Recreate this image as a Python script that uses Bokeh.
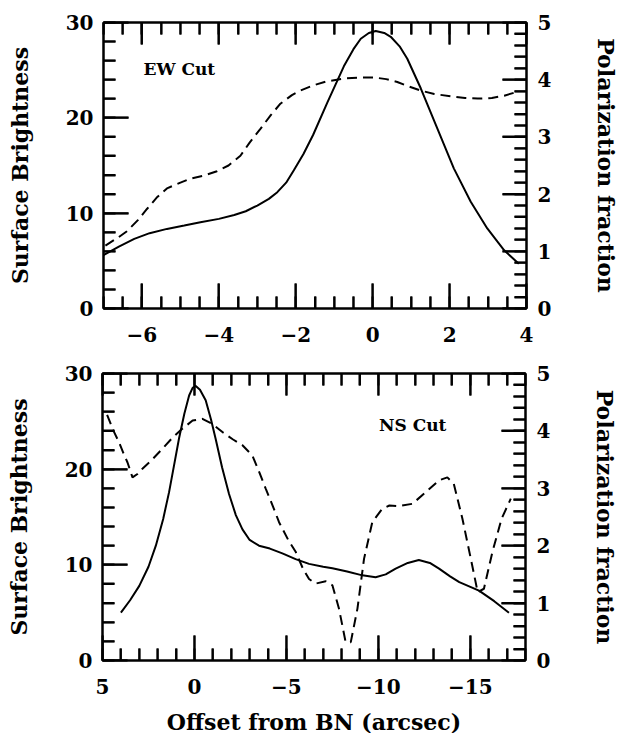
import numpy as np
from bokeh.plotting import figure
from bokeh.models import Range1d, LinearAxis, SingleIntervalTicker, CustomJSTickFormatter, Label
from bokeh.layouts import column, row
from bokeh.embed import file_html
from bokeh.resources import INLINE

# ---------------- data ----------------
# EW cut: surface brightness (left axis)
ew_sb_x = [-7.0, -6.6, -6.2, -5.8, -5.35, -4.9, -4.48, -4.0, -3.6, -3.3, -3.0, -2.7, -2.48, -2.25,
           -2.05, -1.8, -1.55, -1.18, -0.75, -0.5, -0.31, -0.1, 0.08, 0.3, 0.47, 0.7, 0.9, 1.25,
           1.68, 2.11, 2.55, 2.98, 3.42, 3.8]
ew_sb_y = [5.6, 6.5, 7.3, 7.9, 8.35, 8.7, 9.05, 9.4, 9.8, 10.2, 10.8, 11.5, 12.2, 13.2,
           14.5, 16.2, 18.2, 21.6, 25.4, 27.2, 28.3, 28.9, 29.1, 28.9, 28.5, 27.5, 26.2, 23.1,
           18.9, 14.7, 11.2, 8.4, 6.1, 4.7]
# EW cut: polarization fraction (right axis)
ew_pol_x = [-6.95, -6.6, -6.39, -6.1, -5.87, -5.6, -5.35, -5.0, -4.74, -4.4, -4.05, -3.75, -3.44,
            -3.2, -2.92, -2.65, -2.4, -2.1, -1.88, -1.55, -1.2, -0.75, -0.3, 0.03, 0.35, 0.64,
            0.95, 1.25, 1.6, 2.03, 2.4, 2.73, 3.1, 3.42, 3.81]
ew_pol_y = [1.1, 1.25, 1.35, 1.55, 1.74, 1.95, 2.1, 2.2, 2.27, 2.32, 2.4, 2.5, 2.67,
            2.9, 3.14, 3.38, 3.58, 3.73, 3.81, 3.9, 3.97, 4.02, 4.04, 4.04, 4.01, 3.96,
            3.88, 3.81, 3.75, 3.71, 3.68, 3.67, 3.68, 3.72, 3.8]

# NS cut: surface brightness (left axis)
ns_sb_x = [4.0, 3.5, 3.0, 2.5, 2.1, 1.7, 1.38, 1.1, 0.84, 0.55, 0.29, 0.1, -0.07, -0.3, -0.61,
           -0.9, -1.16, -1.5, -1.88, -2.25, -2.61, -3.0, -3.51, -4.1, -4.78, -5.5, -6.23, -7.0,
           -7.5, -8.3, -9.13, -9.85, -10.4, -10.94, -11.6, -12.2, -12.8, -13.3, -13.9, -14.4,
           -15.0, -15.47, -16.3, -17.1]
ns_sb_y = [5.0, 6.3, 7.8, 9.8, 12.0, 14.8, 17.6, 20.5, 23.2, 25.8, 27.7, 28.5, 28.7, 28.3, 27.2,
           25.2, 23.1, 20.2, 17.4, 15.2, 13.7, 12.6, 12.0, 11.7, 11.2, 10.6, 10.1, 9.8,
           9.65, 9.3, 8.9, 8.7, 9.0, 9.6, 10.2, 10.5, 10.2, 9.6, 8.8, 8.2,
           7.7, 7.3, 6.2, 5.0]
# NS cut: polarization fraction (right axis)
ns_pol_x = [4.75, 4.4, 4.1, 3.85, 3.64, 3.37, 3.1, 2.83, 2.3, 1.74, 1.2, 0.65, 0.1, -0.43, -0.98,
            -1.52, -2.1, -2.61, -3.15, -3.5, -3.88, -4.25, -4.6, -5.1, -5.51, -5.9, -6.23, -6.59,
            -7.14, -7.5, -7.86, -8.22, -8.5, -8.86, -9.22, -9.67, -10.2, -10.6, -11.1, -11.85,
            -12.57, -13.3, -13.75, -14.1, -14.57, -15.1, -15.4, -15.74, -16.2, -16.7, -17.2]
ns_pol_y = [4.28, 4.0, 3.8, 3.6, 3.45, 3.19, 3.25, 3.34, 3.5, 3.69, 3.88, 4.04, 4.18, 4.21, 4.12,
            3.98, 3.85, 3.75, 3.57, 3.3, 2.99, 2.7, 2.41, 2.1, 1.89, 1.6, 1.42, 1.34,
            1.38, 1.31, 0.9, 0.32, 0.32, 0.9, 1.77, 2.41, 2.64, 2.7, 2.69, 2.73,
            2.93, 3.14, 3.19, 3.08, 2.47, 1.66, 1.19, 1.25, 1.89, 2.47, 2.82]

panel_labels = ["EW Cut", "NS Cut"]
y_label = "Surface Brightness"
y2_label = "Polarization fraction"
x_label = "Offset from BN (arcsec)"

# axis ranges
ew_xlim = (-7, 4)
ns_xlim = (5, -18)
sb_lim = (0, 30)
pol_lim = (0, 5)

FONT = "DejaVu Serif"
FRAME_W = 423
minus_fmt = "return (tick < 0 ? '\\u2212' + Math.abs(tick) : '' + tick);"


def tick_positions(lo, hi, major, n_minor):
    a, b = min(lo, hi), max(lo, hi)
    step = major / n_minor
    allv = np.round(np.arange(a, b + step * 0.01, step), 6)
    is_major = np.isclose(np.round(allv / major) * major, allv)
    return [float(v) for v in allv[is_major]], [float(v) for v in allv[~is_major]]


def style_axis(ax, show_labels=True, major_in=25, minor_in=12):
    ax.major_tick_in = major_in
    ax.major_tick_out = 0
    ax.minor_tick_in = minor_in
    ax.minor_tick_out = 0
    ax.axis_line_width = 2
    ax.major_tick_line_width = 2
    ax.minor_tick_line_width = 2
    ax.axis_line_color = "black"
    ax.major_tick_line_color = "black"
    ax.minor_tick_line_color = "black"
    ax.major_label_text_font = FONT
    ax.major_label_text_font_style = "bold"
    ax.major_label_text_font_size = "20px"
    ax.major_label_text_color = "black" if show_labels else None
    ax.axis_label_text_font = FONT
    ax.axis_label_text_font_style = "bold"
    ax.axis_label_text_font_size = "22px"
    ax.axis_label_text_color = "black"
    ax.formatter = CustomJSTickFormatter(code=minus_fmt)


def tick_segments(p, xlim, frame_h, xmaj, xmin, ymaj, ymin, pmaj, pmin):
    # inward tick marks as segments starting on the frame edge (pixel lengths -> data units)
    dx = (xlim[1] - xlim[0]) / FRAME_W
    dy = (sb_lim[1] - sb_lim[0]) / frame_h
    dp = (pol_lim[1] - pol_lim[0]) / frame_h
    kw = dict(line_color="black", line_width=2)

    def vseg(pos, y0, length):
        p.segment(x0=pos, y0=[y0] * len(pos), x1=pos, y1=[y0 + length] * len(pos), **kw)

    vseg(xmaj, sb_lim[0], 25 * dy)
    vseg(xmin, sb_lim[0], 12 * dy)
    vseg(xmaj, sb_lim[1], -22 * dy)
    vseg(xmin, sb_lim[1], -12 * dy)
    p.segment(x0=[xlim[0]] * len(ymaj), y0=ymaj, x1=[xlim[0] + 25 * dx] * len(ymaj), y1=ymaj, **kw)
    p.segment(x0=[xlim[0]] * len(ymin), y0=ymin, x1=[xlim[0] + 12 * dx] * len(ymin), y1=ymin, **kw)
    p.segment(x0=[xlim[1]] * len(pmaj), y0=pmaj, x1=[xlim[1] - 24 * dx] * len(pmaj), y1=pmaj,
              y_range_name="pol", **kw)
    p.segment(x0=[xlim[1]] * len(pmin), y0=pmin, x1=[xlim[1] - 12 * dx] * len(pmin), y1=pmin,
              y_range_name="pol", **kw)


def make_panel(xlim, x_int, x_minor, sb_x, sb_y, pol_x, pol_y, label_txt, lx, ly,
               border_left, border_top, border_bottom, frame_h, xlabel=None):
    p = figure(frame_width=FRAME_W, frame_height=frame_h, x_range=Range1d(*xlim),
               y_range=Range1d(*sb_lim),
               output_backend="svg", toolbar_location=None,
               min_border_left=border_left, min_border_right=90,
               min_border_top=border_top, min_border_bottom=border_bottom,
               x_axis_location=None, y_axis_location=None)
    p.extra_y_ranges = {"pol": Range1d(*pol_lim)}
    p.xgrid.visible = False
    p.ygrid.visible = False
    p.outline_line_color = "black"
    p.outline_line_width = 2
    p.background_fill_color = "white"
    p.border_fill_color = "white"

    xb = LinearAxis(ticker=SingleIntervalTicker(interval=x_int, num_minor_ticks=x_minor))
    style_axis(xb)
    xb.major_label_standoff = 18
    if xlabel:
        xb.axis_label = xlabel
        xb.axis_label_standoff = 12
    p.add_layout(xb, "below")

    xa = LinearAxis(ticker=SingleIntervalTicker(interval=x_int, num_minor_ticks=x_minor))
    style_axis(xa, show_labels=False, major_in=22)
    p.add_layout(xa, "above")

    yl = LinearAxis(ticker=SingleIntervalTicker(interval=10, num_minor_ticks=5),
                    axis_label=y_label)
    style_axis(yl)
    yl.major_label_standoff = 10
    yl.axis_label_standoff = 30
    p.add_layout(yl, "left")

    yr = LinearAxis(ticker=SingleIntervalTicker(interval=1, num_minor_ticks=5),
                    y_range_name="pol", axis_label=y2_label)
    style_axis(yr, major_in=24)
    yr.major_label_standoff = 11
    yr.axis_label_standoff = 39
    p.add_layout(yr, "right")

    xmaj, xmin = tick_positions(xlim[0], xlim[1], x_int, x_minor)
    ymaj, ymin = tick_positions(sb_lim[0], sb_lim[1], 10, 5)
    pmaj, pmin = tick_positions(pol_lim[0], pol_lim[1], 1, 5)
    tick_segments(p, xlim, frame_h, xmaj, xmin, ymaj, ymin, pmaj, pmin)

    p.line(sb_x, sb_y, line_color="black", line_width=2)
    p.line(pol_x, pol_y, y_range_name="pol", line_color="black", line_width=2,
           line_dash="10 6")

    p.add_layout(Label(x=lx, y=ly, text=label_txt, text_font=FONT, text_font_style="bold",
                       text_font_size="17px", text_baseline="middle", text_color="black"))
    return p


p1 = make_panel(ew_xlim, 2, 4, ew_sb_x, ew_sb_y, ew_pol_x, ew_pol_y,
                panel_labels[0], -5.96, 25.1, 103, 22, 40, 286)
p2 = make_panel(ns_xlim, 5, 5, ns_sb_x, ns_sb_y, ns_pol_x, ns_pol_y,
                panel_labels[1], -10.03, 24.66, 102, 25, 68, 287, xlabel=x_label)

layout = column(row(p1), row(p2))
open("out.html", "w").write(file_html(layout, INLINE))
